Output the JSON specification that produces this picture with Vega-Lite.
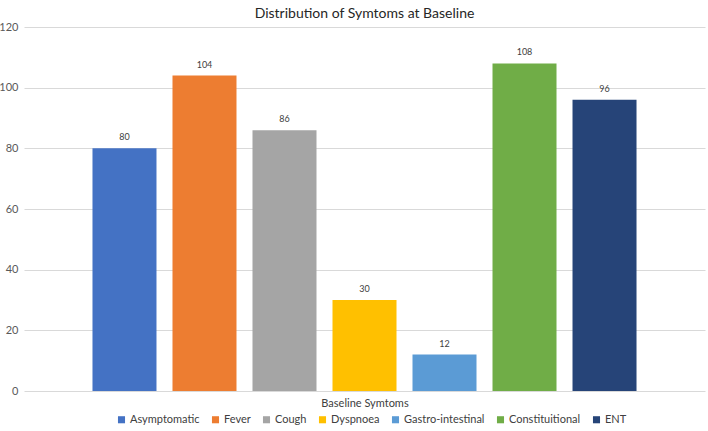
{
  "$schema": "https://vega.github.io/schema/vega-lite/v6.json",
  "width": 681,
  "height": 364,
  "autosize": {"type": "none"},
  "padding": {"left": 24, "top": 27, "right": 3, "bottom": 40},
  "background": "white",
  "title": {
    "text": "Distribution of Symtoms at Baseline",
    "font": "Lato",
    "fontSize": 14,
    "fontWeight": "normal",
    "color": "#262626",
    "anchor": "middle",
    "offset": 0
  },
  "config": {
    "view": {"stroke": null},
    "font": "Lato"
  },
  "data": {
    "values": [
      {"symptom": "Asymptomatic", "count": 80},
      {"symptom": "Fever", "count": 104},
      {"symptom": "Cough", "count": 86},
      {"symptom": "Dyspnoea", "count": 30},
      {"symptom": "Gastro-intestinal", "count": 12},
      {"symptom": "Constituitional", "count": 108},
      {"symptom": "ENT", "count": 96}
    ]
  },
  "encoding": {
    "x": {
      "field": "symptom",
      "type": "nominal",
      "sort": null,
      "scale": {"paddingInner": 0.2, "paddingOuter": 0.856},
      "axis": {
        "title": "Baseline Symtoms",
        "labels": false,
        "ticks": false,
        "domain": false,
        "titleFont": "Lato",
        "titleFontSize": 11,
        "titleFontWeight": "normal",
        "titleColor": "#404040",
        "titlePadding": 6
      }
    },
    "y": {
      "field": "count",
      "type": "quantitative",
      "scale": {"domain": [0, 120]},
      "axis": {
        "title": null,
        "values": [0, 20, 40, 60, 80, 100, 120],
        "ticks": false,
        "domain": false,
        "labelFont": "Lato",
        "labelFontSize": 11,
        "labelColor": "#595959",
        "labelPadding": 6,
        "gridColor": "#d9d9d9",
        "gridWidth": 1
      }
    }
  },
  "layer": [
    {
      "mark": {"type": "bar"},
      "encoding": {
        "color": {
          "field": "symptom",
          "type": "nominal",
          "sort": null,
          "scale": {
            "domain": ["Asymptomatic", "Fever", "Cough", "Dyspnoea", "Gastro-intestinal", "Constituitional", "ENT"],
            "range": ["#4472C4", "#ED7D31", "#A5A5A5", "#FFC000", "#5B9BD5", "#70AD47", "#264478"]
          },
          "legend": {
            "title": null,
            "orient": "none",
            "direction": "horizontal",
            "legendX": 92,
            "legendY": 387,
            "symbolType": "square",
            "symbolSize": 50,
            "symbolStrokeWidth": 0,
            "labelFont": "Lato",
            "labelFontSize": 11,
            "labelColor": "#404040",
            "columnPadding": 10,
            "labelOffset": 3
          }
        }
      }
    },
    {
      "mark": {
        "type": "text",
        "baseline": "bottom",
        "dy": -6,
        "font": "Lato",
        "fontSize": 9,
        "color": "#404040"
      },
      "encoding": {
        "text": {"field": "count", "type": "quantitative"}
      }
    }
  ]
}
